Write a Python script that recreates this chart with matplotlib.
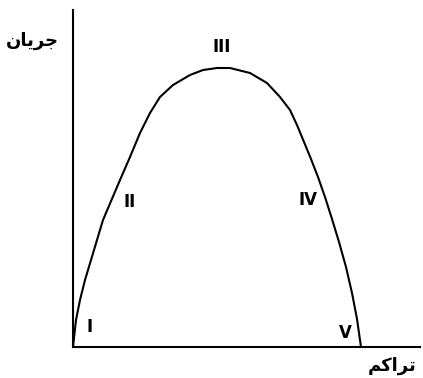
import matplotlib
matplotlib.use("Agg")
import matplotlib.pyplot as plt

# flow-density curve (density on x, flow on y)
density = [0, 1, 3, 7, 12, 18, 24, 30, 47, 57, 67, 77, 87, 100, 117, 130, 144,
           157, 177, 194, 207, 217, 224, 231, 238, 245, 252, 259, 266, 273, 279, 284, 288]
flow = [0, 9, 27, 47, 67, 87, 107, 127, 167, 190, 214, 234, 250, 262, 272, 277, 279,
        279, 274, 264, 250, 237, 222, 205, 188, 170, 150, 128, 105, 80, 54, 28, 0]

# region labels and where they sit
regions = ["I", "II", "III", "IV", "V"]
region_x = [17, 57, 149, 235, 272]
region_y = [20, 145, 300, 147, 14]

# Persian axis titles, written in presentation forms (visual order)
y_title = "\uFEE5\uFE8E\uFEF3\uFEAE\uFE9F"   # جریان
x_title = "\uFEE2\uFB90\uFE8D\uFEAE\uFE97"   # تراکم

fig = plt.figure(figsize=(4.23, 3.78), dpi=100)
ax = fig.add_axes([73 / 423, 31 / 378, 347 / 423, 337 / 378])

ax.plot(density, flow, color="black", lw=1.5, solid_joinstyle="round",
        solid_capstyle="round")

for lab, x, y in zip(regions, region_x, region_y):
    ax.text(x, y, lab, ha="center", va="center", fontsize=12,
            fontweight="bold", family=["DejaVu Sans"])

ax.set_xlim(0, 347)
ax.set_ylim(0, 337)
for s in ["top", "right"]:
    ax.spines[s].set_visible(False)
for s in ["left", "bottom"]:
    ax.spines[s].set_linewidth(1.5)
ax.set_xticks([])
ax.set_yticks([])

fig.text(32 / 423, 1 - 41 / 378, y_title, ha="center", va="center",
         fontsize=13, fontweight="bold", family=["DejaVu Sans"])
fig.text(392 / 423, 1 - 366 / 378, x_title, ha="center", va="center",
         fontsize=13, fontweight="bold", family=["DejaVu Sans"])

fig.savefig("out.png", dpi=100)
